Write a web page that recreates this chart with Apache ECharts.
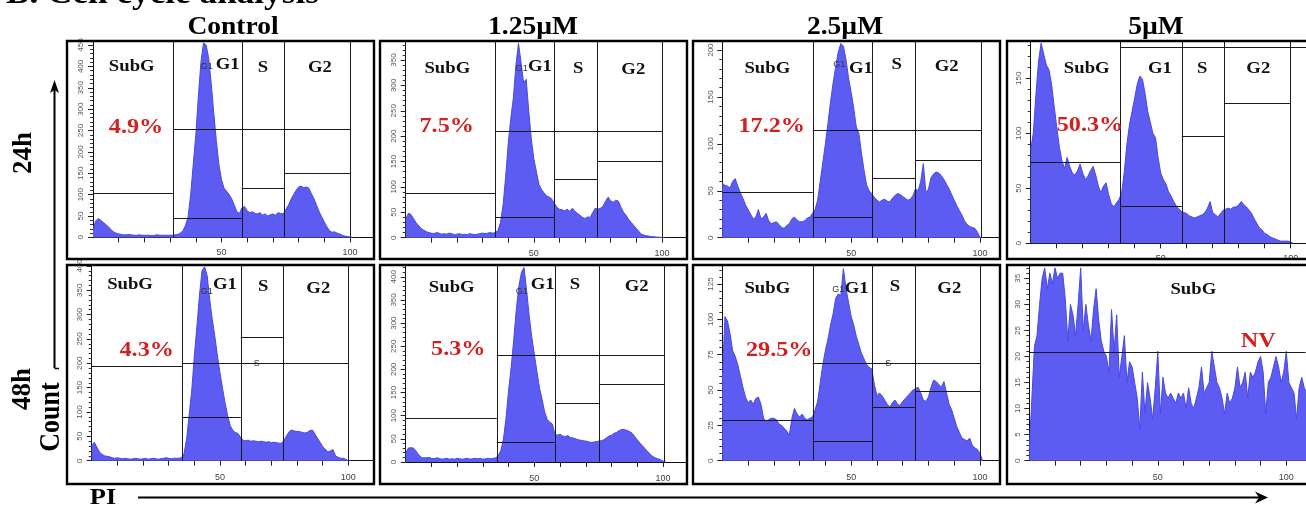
<!DOCTYPE html>
<html><head><meta charset="utf-8">
<script src="https://cdn.jsdelivr.net/npm/echarts@6/dist/echarts.min.js"></script>
<style>html,body{margin:0;padding:0;background:#fff}#c{width:1306px;height:508px}</style>
</head><body><div id="c"></div>
<script>
// ---------- DATA ----------
const doses = ['Control', '1.25µM', '2.5µM', '5µM'];
const times = ['24h', '48h'];
const phases = ['SubG', 'G1', 'S', 'G2'];
const subGPct = ['4.9%', '7.5%', '17.2%', '50.3%', '4.3%', '5.3%', '29.5%', 'NV'];
const xTickVals = [10, 20, 30, 40, 50, 60, 70, 80, 90, 100];
const xLabelVals = [50, 100];

// PI channel bins
const pi = [0,1,2,3,4,5,6,7,8,9,10,11,12,13,14,15,16,17,18,19,20,21,22,23,24,25,26,27,28,29,30,31,32,33,34,35,36,37,38,39,40,41,42,43,44,45,46,47,48,49,50,51,52,53,54,55,56,57,58,59,60,61,62,63,64,65,66,67,68,69,70,71,72,73,74,75,76,77,78,79,80,81,82,83,84,85,86,87,88,89,90,91,92,93,94,95,96,97,98,99,100,101,102,103,104,105,106,107,108];

// counts per PI bin
const countCtl24 = [18,38,44,40,35,30,25,18,13,10, 8,7,6,6,7,6,5,5,6,5, 5,5,5,4,5,6,5,5,5,5, 5,5,6,7,10,16,28,48,100,170, 240,330,410,455,450,420,360,290,225,170, 135,115,108,100,90,75,60,56,70,72, 62,58,60,56,55,58,52,55,50,53, 55,52,58,56,55,65,75,88,100,110, 118,120,116,118,115,102,90,75,60,48, 36,25,16,12,13,10,8,5,3,2, 1,0];
const count125_24 = [35,48,46,38,30,24,18,15,12,10, 9,8,10,9,7,8,7,9,8,6, 7,8,6,7,6,8,7,6,7,8, 9,8,9,10,9,10,14,30,65,120, 185,235,275,340,383,345,305,312,250,195, 155,130,105,95,88,82,80,76,68,60, 56,55,53,56,52,58,52,48,44,40, 38,41,40,50,58,56,58,62,72,80, 72,70,74,72,60,50,44,36,30,24, 18,12,7,5,4,3,2,2,1,1, 0,0];
const count25_24 = [58,56,55,53,60,63,55,48,42,35, 30,25,20,22,30,20,22,26,18,15, 16,17,14,11,10,13,15,20,22,19, 17,17,18,21,22,26,30,40,60,80, 100,122,145,165,182,198,207,204,190,170, 155,138,118,111,90,72,56,50,47,43, 40,38,40,41,39,38,42,45,47,46, 44,42,40,41,45,52,50,60,79,48, 52,64,68,70,69,66,62,57,52,46, 40,34,29,24,18,14,12,11,10,6, 0,0];
const count5_24 = [85,100,135,165,182,172,162,158,145,125, 106,88,75,68,78,70,64,62,66,72, 64,58,61,66,70,62,52,46,52,55, 44,36,33,37,40,46,65,90,108,120, 132,145,152,149,136,120,110,100,96,78, 64,58,54,47,43,38,34,31,29,28, 27,25,24,23,24,25,26,28,32,38, 28,26,24,27,30,31,32,31,33,33, 35,38,35,33,30,27,22,18,14,12, 9,8,6,5,4,3,2,2,2,2, 1,0];
const countCtl48 = [30,38,28,18,13,10,9,8,6,5, 6,5,4,5,4,3,4,5,4,3, 4,5,3,4,5,4,3,4,5,6, 5,4,5,5,5,6,15,45,95,145, 215,275,340,390,398,380,330,290,255,215, 180,148,118,92,72,62,58,56,48,42, 41,42,40,41,40,39,40,39,38,39, 37,38,37,36,36,42,52,60,63,61, 60,60,58,57,58,62,63,55,46,38, 29,24,18,20,23,10,7,5,5,3, 0,0];
const count125_48 = [19,30,31,30,24,16,10,9,9,10, 8,7,9,8,6,7,8,6,7,6, 8,7,6,7,8,6,7,8,7,8, 6,7,8,7,8,9,14,25,50,95, 155,205,265,330,380,410,420,370,315,270, 232,195,160,135,108,92,86,82,60,58, 60,56,55,57,53,52,50,48,47,46, 45,44,42,43,44,45,46,48,52,56, 58,62,64,68,70,70,68,66,62,55, 48,41,35,29,23,17,12,9,7,5, 2,0];
const count25_48 = [55,102,99,90,78,74,68,60,52,45, 41,43,40,44,45,40,30,28,29,30, 30,29,26,25,23,21,18,30,37,33, 31,33,30,29,30,31,36,42,55,68, 78,86,96,104,115,118,117,136,122,112, 102,96,88,82,76,72,68,66,65,54, 46,48,46,43,40,38,41,43,40,39, 42,44,46,48,50,51,52,48,43,42, 45,52,57,56,54,52,56,48,40,36, 30,24,20,16,15,14,16,11,9,8, 5,0];
const count5_48 = [2,12,22,24,30,35,37,33,36,34, 37,35,36,36,31,23,30,28,24,30, 37,25,30,26,23,29,33,27,23,21, 20,17,29,21,28,16,20,24,15,19, 18,15,12,6,17,9,15,12,8,14, 21,9,16,13,12,13,12,11,13,12, 13,10,14,11,10,12,14,18,13,14, 15,21,18,15,14,12,9,13,11,12, 14,18,14,15,17,12,17,16,17,19, 20,17,9,15,16,18,20,18,15,17, 21,15,14,13,8,14,16,14,13];

// gate markers: vertical boundaries (PI) and horizontal bars [from, to, height]
const vGateCtl24 = [31.1, 57.9, 74.3, 100];
const hGateCtl24 = [[0,31.1,104],[31.1,57.9,44],[31.1,100,252],[57.9,74.3,115],[74.3,100,151]];
const vGate125_24 = [35, 58, 74.8, 100];
const hGate125_24 = [[0,35,87],[35,58,40],[35,100,210],[58,74.8,115],[74.8,100,150]];
const vGate25_24 = [35.1, 58.2, 74.9, 100.4];
const hGate25_24 = [[0,35.1,48],[35.1,58.2,21.7],[35.1,100.4,114.8],[58.2,74.9,62.9],[74.9,100.4,82.8]];
const vGate5_24 = [34.6, 58.1, 74.5, 99.7];
const hGate5_24 = [[0,34.6,74],[34.6,58.1,34],[34.6,106,178],[58.1,74.5,97],[74.5,99.7,127]];
const vGateCtl48 = [35.1, 58.1, 74.7, 100];
const hGateCtl48 = [[0,35.1,193],[35.1,58.1,89],[35.1,100,201],[58.1,74.7,253]];
const vGate125_48 = [35.4, 58.3, 75.1, 100.5];
const hGate125_48 = [[0,35.4,95],[35.4,58.3,43],[35.4,100.5,231],[58.3,75.1,126],[75.1,100.5,167]];
const vGate25_48 = [35.1, 58.2, 74.9, 100];
const hGate25_48 = [[0,35.1,28.8],[35.1,58.2,13.9],[35.1,100,68.9],[58.2,74.9,37.5],[74.9,100,49.3]];
const vGate5_48 = [];
const hGate5_48 = [[0,107.5,20.8]];

// ---------- LAYOUT ----------
const panels = [
  {counts: countCtl24, vg: vGateCtl24, hg: hGateCtl24, l:93, t:41, r:373, b:237.4, xs:2.57, ys:0.4274, yi:50},
  {counts: count125_24, vg: vGate125_24, hg: hGate125_24, l:405.7, t:41, r:686, b:237.7, xs:2.563, ys:0.5076, yi:50},
  {counts: count25_24, vg: vGate25_24, hg: hGate25_24, l:722.3, t:41, r:999, b:237.7, xs:2.577, ys:0.938, yi:50},
  {counts: count5_24, vg: vGate5_24, hg: hGate5_24, l:1030.7, t:41, r:1306, b:243.3, xs:2.6, ys:1.1, yi:50},
  {counts: countCtl48, vg: vGateCtl48, hg: hGateCtl48, l:91.7, t:265, r:373, b:460.7, xs:2.566, ys:0.487, yi:50},
  {counts: count125_48, vg: vGate125_48, hg: hGate125_48, l:405.7, t:265, r:686, b:462, xs:2.573, ys:0.463, yi:50},
  {counts: count25_48, vg: vGate25_48, hg: hGate25_48, l:722.3, t:265, r:999, b:460.7, xs:2.577, ys:1.413, yi:25},
  {counts: count5_48, vg: vGate5_48, hg: hGate5_48, l:1029.3, t:265, r:1306, b:460.7, xs:2.57, ys:5.21, yi:5}
];

// label positions (pixels) per panel
const labelPos = [
  {sub:[131.7,66.7], g1:[227.7,65], s:[263,68], g2:[320,68], pct:[136,127.7], sg1:[206.7,66.7]},
  {sub:[447.3,68.3], g1:[540,66.7], s:[578.3,68.3], g2:[633.3,70], pct:[446.7,126], sg1:[521.7,68.3]},
  {sub:[767.3,68.3], g1:[861,68.3], s:[896.7,65], g2:[946.7,66.7], pct:[771.7,126.7], sg1:[839.3,65]},
  {sub:[1086.7,68.3], g1:[1160,68.3], s:[1202.3,68.3], g2:[1258.3,68.3], pct:[1090,125]},
  {sub:[130,285], g1:[225,285], s:[263.3,286.7], g2:[318.3,288.3], pct:[146.7,350], sg1:[206.7,291.7], ss:[256.7,363.3]},
  {sub:[451.7,287.3], g1:[542.7,285], s:[575,285], g2:[636.7,286.7], pct:[458.3,349.3], sg1:[521.7,291.7]},
  {sub:[767.3,288.3], g1:[856.7,288.3], s:[895,286.7], g2:[949.3,288.3], pct:[779.3,350], sg1:[838.3,290], ss:[888.3,363.3]},
  {sub:[1193.3,290], pct:[1258.3,341.7]}
];
const frames = [[67,41,307,218],[380,41,307,218],[693,41,307,218],[1007,41,320,218],
                [67,265,307,219],[380,265,307,219],[693,265,307,219],[1007,265,320,219]];

const SERIF = '"Liberation Serif","Times New Roman",serif';
function txt(x, y, s, size, color, opt) {
  opt = opt || {};
  return {type:'text', x:x, y:y, rotation:opt.rot||0, scaleX:opt.sx||1, scaleY:opt.sy||1, z:100,
    style:{text:s, x:0, y:0, align:opt.align||'center', verticalAlign:'middle', fontSize:size,
      fontWeight:opt.normal?'normal':'bold', fontFamily:opt.family||SERIF, fill:color}};
}

const grids = [], xAxes = [], yAxes = [], series = [];
panels.forEach((p, i) => {
  const xmax = (p.r - p.l) / p.xs, ymax = (p.b - p.t) / p.ys;
  const row2 = p.t > 200;
  grids.push({left:p.l, top:p.t, width:p.r - p.l, height:p.b - p.t});
  xAxes.push({gridIndex:i, type:'value', min:0, max:xmax, splitLine:{show:false},
    axisLine:{lineStyle:{color:'#111', width:1}},
    axisTick:{customValues:xTickVals, length:5, lineStyle:{color:'#222'}},
    axisLabel:{customValues:xLabelVals, fontSize:9, color:'#444', margin:row2 ? 12 : 11, fontFamily:'"Liberation Sans",Arial,sans-serif'}});
  yAxes.push({gridIndex:i, type:'value', min:0, max:ymax, interval:p.yi, splitLine:{show:false},
    axisLine:{show:true, lineStyle:{color:'#111', width:1}},
    axisTick:{show:true, length:5, lineStyle:{color:'#222'}},
    minorTick:{show:true, splitNumber:5, length:3, lineStyle:{color:'#333'}},
    axisLabel:{rotate:90, fontSize:8, color:'#555', margin:8, showMaxLabel:false, fontFamily:'"Liberation Sans",Arial,sans-serif'}});
  const ml = [];
  p.vg.forEach(x => ml.push([{coord:[x, 0]}, {coord:[x, ymax]}]));
  p.hg.forEach(h => ml.push([{coord:[h[0], h[2]]}, {coord:[Math.min(h[1], xmax), h[2]]}]));
  series.push({type:'line', xAxisIndex:i, yAxisIndex:i, animation:false, showSymbol:false, symbol:'none',
    data: p.counts.map((c, k) => [pi[k], c]),
    lineStyle:{color:'#4848e4', width:1}, areaStyle:{color:'#5c5cf3', opacity:1},
    markLine:{silent:true, symbol:'none', animation:false, label:{show:false},
      lineStyle:{color:'#1a1a1a', width:1, type:'solid'}, emphasis:{disabled:true}, data:ml}});
});

const g = [];
g.push({type:'rect', z:90, shape:{x:1004, y:260, width:302, height:4.5}, style:{fill:'#fff'}});
frames.forEach(f => g.push({type:'rect', z:100, shape:{x:f[0], y:f[1], width:f[2], height:f[3]},
  style:{fill:'none', stroke:'#000', lineWidth:2.4}}));
g.push(txt(6, -5.5, 'B. Cell cycle analysis', 32, '#000', {align:'left', sx:1.1}));
[[233,28],[533,28],[845,28],[1156,28]].forEach((c, i) => g.push(txt(c[0], c[1], doses[i], 25, '#000', {sx:1.1})));
g.push(txt(24, 153, times[0], 27, '#000', {rot:Math.PI/2}));
g.push(txt(23, 389, times[1], 27, '#000', {rot:Math.PI/2}));
g.push(txt(52, 417, 'Count', 26, '#000', {rot:Math.PI/2, sy:1.1}));
g.push(txt(103, 498, 'PI', 24, '#000', {sx:1.1}));
g.push({type:'line', z:100, shape:{x1:54.5, y1:368, x2:54.5, y2:88}, style:{stroke:'#000', lineWidth:2}});
g.push({type:'line', z:100, shape:{x1:54.5, y1:368.5, x2:59, y2:368.5}, style:{stroke:'#000', lineWidth:1.5}});
g.push({type:'polygon', z:100, shape:{points:[[54.5,80],[50,93],[54.5,90],[59,93]]}, style:{fill:'#000'}});
g.push({type:'line', z:100, shape:{x1:138, y1:497.5, x2:1262, y2:497.5}, style:{stroke:'#000', lineWidth:2}});
g.push({type:'polygon', z:100, shape:{points:[[1268,497.5],[1255,491.5],[1259,497.5],[1255,503.5]]}, style:{fill:'#000'}});
labelPos.forEach((lp, i) => {
  if (lp.sub) g.push(txt(lp.sub[0], lp.sub[1], phases[0], 17, '#111', {sx:1.1}));
  if (lp.g1) g.push(txt(lp.g1[0], lp.g1[1], phases[1], 17, '#111', {sx:1.1}));
  if (lp.s) g.push(txt(lp.s[0], lp.s[1], phases[2], 17, '#111', {sx:1.1}));
  if (lp.g2) g.push(txt(lp.g2[0], lp.g2[1], phases[3], 17, '#111', {sx:1.1}));
  if (lp.sg1) g.push(txt(lp.sg1[0], lp.sg1[1], 'G1', 9, '#333', {normal:true, family:'"Liberation Sans",Arial,sans-serif'}));
  if (lp.ss) g.push(txt(lp.ss[0], lp.ss[1], 'S', 9, '#333', {normal:true, family:'"Liberation Sans",Arial,sans-serif'}));
  g.push(txt(lp.pct[0], lp.pct[1], subGPct[i], 22, '#d31f1f', {sx:1.1}));
});

const chart = echarts.init(document.getElementById('c'), null, {renderer:'canvas'});
chart.setOption({animation:false, backgroundColor:'#fff', grid:grids, xAxis:xAxes, yAxis:yAxes, series:series, graphic:{elements:g}});
</script></body></html>
